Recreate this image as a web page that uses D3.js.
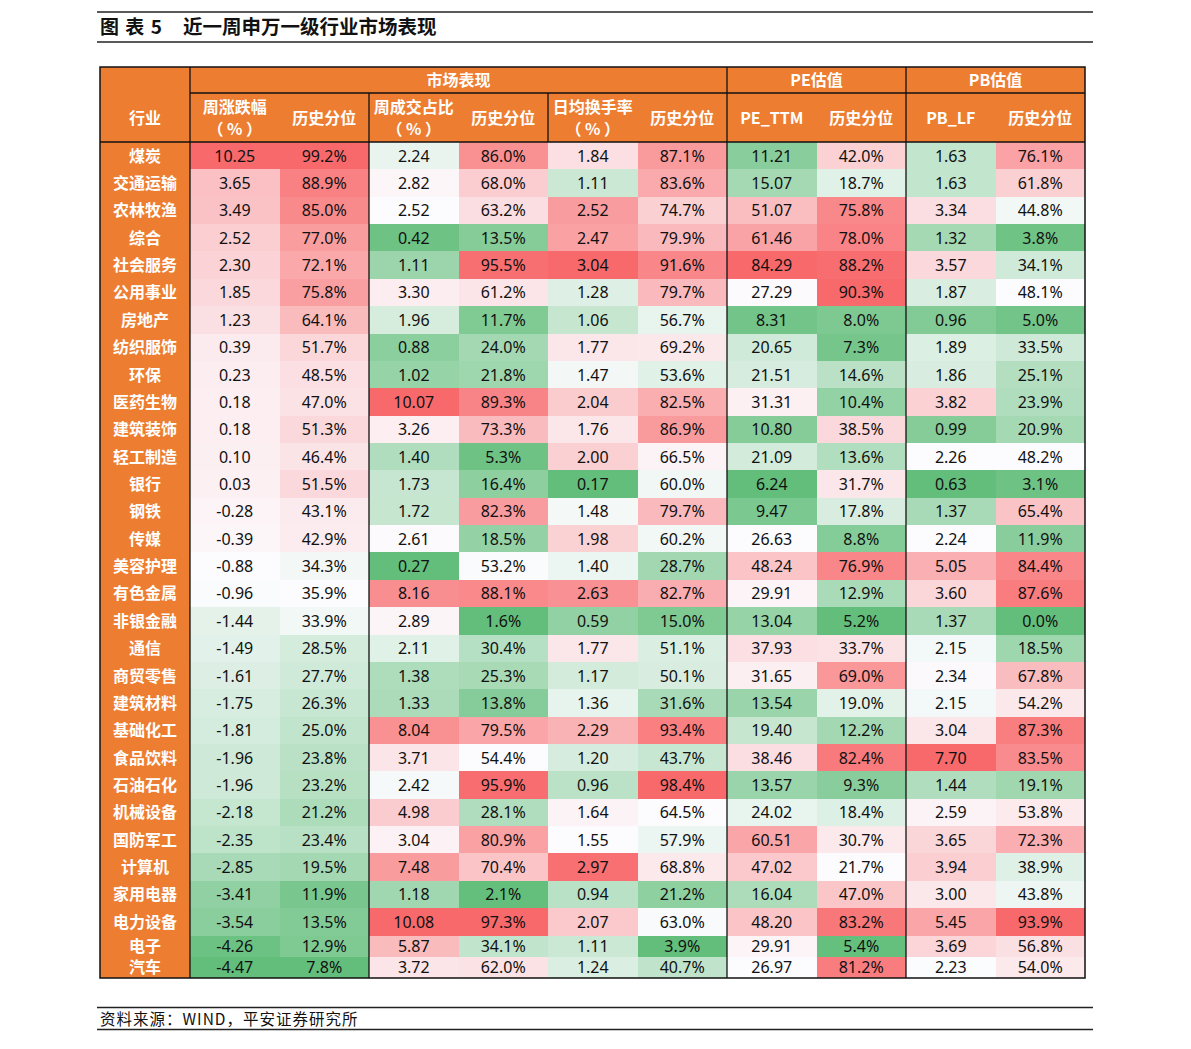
<!DOCTYPE html>
<html>
<head>
<meta charset="utf-8">
<script src="https://cdn.jsdelivr.net/npm/d3@7"></script>
<style>
  body { margin: 0; background: #fff; }
  svg { display: block; }
</style>
</head>
<body>
<div id="chart"></div>
<script>
const industries = ["煤炭", "交通运输", "农林牧渔", "综合", "社会服务", "公用事业", "房地产", "纺织服饰", "环保", "医药生物",
  "建筑装饰", "轻工制造", "银行", "钢铁", "传媒", "美容护理", "有色金属", "非银金融", "通信", "商贸零售",
  "建筑材料", "基础化工", "食品饮料", "石油石化", "机械设备", "国防军工", "计算机", "家用电器", "电力设备", "电子", "汽车"];

const weekChange = [10.25, 3.65, 3.49, 2.52, 2.30, 1.85, 1.23, 0.39, 0.23, 0.18, 0.18, 0.10, 0.03, -0.28, -0.39, -0.88,
  -0.96, -1.44, -1.49, -1.61, -1.75, -1.81, -1.96, -1.96, -2.18, -2.35, -2.85, -3.41, -3.54, -4.26, -4.47];
const weekChangePct = [99.2, 88.9, 85.0, 77.0, 72.1, 75.8, 64.1, 51.7, 48.5, 47.0, 51.3, 46.4, 51.5, 43.1, 42.9, 34.3,
  35.9, 33.9, 28.5, 27.7, 26.3, 25.0, 23.8, 23.2, 21.2, 23.4, 19.5, 11.9, 13.5, 12.9, 7.8];
const volumeShare = [2.24, 2.82, 2.52, 0.42, 1.11, 3.30, 1.96, 0.88, 1.02, 10.07, 3.26, 1.40, 1.73, 1.72, 2.61, 0.27,
  8.16, 2.89, 2.11, 1.38, 1.33, 8.04, 3.71, 2.42, 4.98, 3.04, 7.48, 1.18, 10.08, 5.87, 3.72];
const volumeSharePct = [86.0, 68.0, 63.2, 13.5, 95.5, 61.2, 11.7, 24.0, 21.8, 89.3, 73.3, 5.3, 16.4, 82.3, 18.5, 53.2,
  88.1, 1.6, 30.4, 25.3, 13.8, 79.5, 54.4, 95.9, 28.1, 80.9, 70.4, 2.1, 97.3, 34.1, 62.0];
const turnover = [1.84, 1.11, 2.52, 2.47, 3.04, 1.28, 1.06, 1.77, 1.47, 2.04, 1.76, 2.00, 0.17, 1.48, 1.98, 1.40,
  2.63, 0.59, 1.77, 1.17, 1.36, 2.29, 1.20, 0.96, 1.64, 1.55, 2.97, 0.94, 2.07, 1.11, 1.24];
const turnoverPct = [87.1, 83.6, 74.7, 79.9, 91.6, 79.7, 56.7, 69.2, 53.6, 82.5, 86.9, 66.5, 60.0, 79.7, 60.2, 28.7,
  82.7, 15.0, 51.1, 50.1, 31.6, 93.4, 43.7, 98.4, 64.5, 57.9, 68.8, 21.2, 63.0, 3.9, 40.7];
const peTTM = [11.21, 15.07, 51.07, 61.46, 84.29, 27.29, 8.31, 20.65, 21.51, 31.31, 10.80, 21.09, 6.24, 9.47, 26.63, 48.24,
  29.91, 13.04, 37.93, 31.65, 13.54, 19.40, 38.46, 13.57, 24.02, 60.51, 47.02, 16.04, 48.20, 29.91, 26.97];
const pePct = [42.0, 18.7, 75.8, 78.0, 88.2, 90.3, 8.0, 7.3, 14.6, 10.4, 38.5, 13.6, 31.7, 17.8, 8.8, 76.9,
  12.9, 5.2, 33.7, 69.0, 19.0, 12.2, 82.4, 9.3, 18.4, 30.7, 21.7, 47.0, 83.2, 5.4, 81.2];
const pbLF = [1.63, 1.63, 3.34, 1.32, 3.57, 1.87, 0.96, 1.89, 1.86, 3.82, 0.99, 2.26, 0.63, 1.37, 2.24, 5.05,
  3.60, 1.37, 2.15, 2.34, 2.15, 3.04, 7.70, 1.44, 2.59, 3.65, 3.94, 3.00, 5.45, 3.69, 2.23];
const pbPct = [76.1, 61.8, 44.8, 3.8, 34.1, 48.1, 5.0, 33.5, 25.1, 23.9, 20.9, 48.2, 3.1, 65.4, 11.9, 84.4,
  87.6, 0.0, 18.5, 67.8, 54.2, 87.3, 83.5, 19.1, 53.8, 72.3, 38.9, 43.8, 93.9, 56.8, 54.0];

const groupNames = ["市场表现", "PE估值", "PB估值"];
const groupSpans = [[0, 6], [6, 8], [8, 10]];
const subHeaders = [["周涨跌幅", "（ % ）"], ["历史分位"], ["周成交占比", "（ % ）"], ["历史分位"], ["日均换手率", "（ % ）"], ["历史分位"],
  ["PE_TTM"], ["历史分位"], ["PB_LF"], ["历史分位"]];

const columns = [
  { values: weekChange, pct: false },
  { values: weekChangePct, pct: true },
  { values: volumeShare, pct: false },
  { values: volumeSharePct, pct: true },
  { values: turnover, pct: false },
  { values: turnoverPct, pct: true },
  { values: peTTM, pct: false },
  { values: pePct, pct: true },
  { values: pbLF, pct: false },
  { values: pbPct, pct: true },
];

const W = 1191, H = 1049;
const orange = "#ED7D31";
const fontCN = "'Noto Sans CJK SC', 'Noto Sans', sans-serif";
const fontNum = "'Noto Sans', 'DejaVu Sans', sans-serif";

const svg = d3.select("#chart").append("svg").attr("width", W).attr("height", H);

const tLeft = 100, tRight = 1085, labelRight = 190;
const tTop = 67, head1 = 93, head2 = 142, tBottom = 978;

// columns are evenly spaced, rows are uneven at the bottom (last two shorter)
const x = d3.scaleLinear().domain([0, columns.length]).range([labelRight, tRight]);
const y = d3.scaleLinear().domain([0, 29, industries.length]).range([head2, 935.5, tBottom]);

// title block
svg.append("line").attr("x1", 97).attr("x2", 1093).attr("y1", 12).attr("y2", 12)
  .attr("stroke", "#222").attr("stroke-width", 1.5);
svg.append("line").attr("x1", 97).attr("x2", 1093).attr("y1", 42).attr("y2", 42)
  .attr("stroke", "#222").attr("stroke-width", 1.5);
svg.append("text").attr("x", 100).attr("y", 34).attr("font-family", fontCN)
  .attr("font-size", 19).attr("font-weight", "bold").attr("fill", "#111")
  .attr("letter-spacing", 1)
  .text("图 表 5");
svg.append("text").attr("x", 183).attr("y", 34).attr("font-family", fontCN)
  .attr("font-size", 19.5).attr("font-weight", "bold").attr("fill", "#111")
  .text("近一周申万一级行业市场表现");

// header background
svg.append("rect").attr("x", tLeft).attr("y", tTop).attr("width", tRight - tLeft).attr("height", head2 - tTop)
  .attr("fill", orange);

svg.append("text").attr("x", (tLeft + labelRight) / 2).attr("y", 124)
  .attr("text-anchor", "middle").attr("font-family", fontCN).attr("font-size", 16)
  .attr("font-weight", "bold").attr("fill", "#fff").text("行业");

svg.selectAll(".group").data(groupNames).join("text")
  .attr("x", (d, i) => (x(groupSpans[i][0]) + x(groupSpans[i][1])) / 2)
  .attr("y", 86)
  .attr("text-anchor", "middle").attr("font-family", fontCN).attr("font-size", 16)
  .attr("font-weight", "bold").attr("fill", "#fff").text(d => d);

const sub = svg.selectAll(".sub").data(subHeaders).join("text")
  .attr("text-anchor", "middle").attr("font-family", fontCN).attr("font-size", 16)
  .attr("font-weight", "bold").attr("fill", "#fff");
sub.each(function (d, i) {
  const cx = (x(i) + x(i + 1)) / 2;
  const t = d3.select(this);
  if (d.length === 1) {
    t.append("tspan").attr("x", cx).attr("y", 124).text(d[0]);
  } else {
    t.append("tspan").attr("x", cx).attr("y", 113).text(d[0]);
    t.append("tspan").attr("x", cx).attr("y", 135).text(d[1]);
  }
});

// body: industry labels
svg.append("rect").attr("x", tLeft).attr("y", head2).attr("width", labelRight - tLeft).attr("height", tBottom - head2)
  .attr("fill", orange);
svg.selectAll(".ind").data(industries).join("text")
  .attr("x", (tLeft + labelRight) / 2)
  .attr("y", (d, i) => (y(i) + y(i + 1)) / 2 + 6)
  .attr("text-anchor", "middle").attr("font-family", fontCN).attr("font-size", 16)
  .attr("font-weight", "bold").attr("fill", "#fff").text(d => d);

// heatmap cells, Excel style green-white-red with median midpoint per column
const cols = svg.selectAll(".col").data(columns).join("g");
cols.each(function (col, ci) {
  const sorted = col.values.slice().sort(d3.ascending);
  const color = d3.scaleLinear()
    .domain([sorted[0], d3.quantileSorted(sorted, 0.5), sorted[sorted.length - 1]])
    .range(["#63BE7B", "#FCFCFF", "#F8696B"])
    .interpolate(d3.interpolateRgb);
  const g = d3.select(this);
  g.selectAll("rect").data(col.values).join("rect")
    .attr("x", x(ci)).attr("width", x(ci + 1) - x(ci))
    .attr("y", (d, i) => y(i)).attr("height", (d, i) => y(i + 1) - y(i))
    .attr("fill", d => color(d))
    .attr("shape-rendering", "crispEdges");
  g.selectAll("text").data(col.values).join("text")
    .attr("x", (x(ci) + x(ci + 1)) / 2)
    .attr("y", (d, i) => (y(i) + y(i + 1)) / 2 + 6)
    .attr("text-anchor", "middle").attr("font-family", fontNum).attr("font-size", 16)
    .attr("fill", "#111")
    .text(d => col.pct ? d.toFixed(1) + "%" : d.toFixed(2));
});

// grid lines
const lineColor = "#111";
const gridLines = [
  [labelRight, tTop, labelRight, tBottom],
  [x(2), head1, x(2), tBottom],
  [x(4), head1, x(4), head2],
  [x(6), tTop, x(6), tBottom],
  [x(8), tTop, x(8), tBottom],
  [labelRight, head1, tRight, head1],
  [tLeft, head2, tRight, head2],
];
svg.selectAll(".grid").data(gridLines).join("line")
  .attr("x1", d => d[0]).attr("y1", d => d[1]).attr("x2", d => d[2]).attr("y2", d => d[3])
  .attr("stroke", lineColor).attr("stroke-width", 1.3);
svg.append("rect").attr("x", tLeft).attr("y", tTop).attr("width", tRight - tLeft).attr("height", tBottom - tTop)
  .attr("fill", "none").attr("stroke", lineColor).attr("stroke-width", 1.5);

// source
svg.append("line").attr("x1", 97).attr("x2", 1093).attr("y1", 1007.5).attr("y2", 1007.5)
  .attr("stroke", "#222").attr("stroke-width", 1.5);
svg.append("line").attr("x1", 97).attr("x2", 1093).attr("y1", 1029.5).attr("y2", 1029.5)
  .attr("stroke", "#222").attr("stroke-width", 1.5);
svg.append("text").attr("x", 100).attr("y", 1025).attr("font-family", fontCN)
  .attr("font-size", 15.5).attr("letter-spacing", 1).attr("fill", "#111").text("资料来源：WIND，平安证券研究所");
</script>
</body>
</html>
